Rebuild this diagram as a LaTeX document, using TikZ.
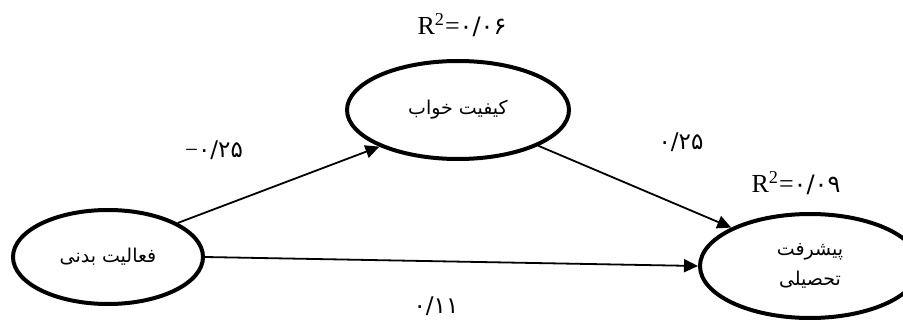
\documentclass[tikz,border=0pt]{standalone}
\usepackage{fontspec}
\setmainfont{Liberation Serif}
\newfontfamily\arabicfont[Script=Arabic]{DejaVu Sans}
\TeXXeTstate=1
\usetikzlibrary{arrows.meta, shapes.geometric}

\begin{document}
\begin{tikzpicture}[x=0.5pt, y=-0.5pt,
    latent/.style={ellipse, draw, line width=2pt, inner sep=0pt, align=center,
      font=\arabicfont\fontsize{9.5}{15}\selectfont},
    path/.style={-{Triangle[length=7pt, width=6.5pt]}, line width=0.9pt},
    coef/.style={font=\arabicfont\fontsize{11.5}{13}\selectfont, inner sep=1pt},
    rsq/.style={font=\fontsize{13}{15}\selectfont}]
    \clip (0,0) rectangle (903,320);
    % Latent variables
    \node[latent, minimum width=95pt, minimum height=47pt] (activity) at (108,257) {\beginR فعالیت بدنی\endR};
    \node[latent, minimum width=111pt, minimum height=49pt] (sleep) at (458,110) {\beginR کیفیت خواب\endR};
    \node[latent, minimum width=110pt, minimum height=52pt] (achieve) at (810,266)
      {\beginR پیشرفت\endR\\\beginR تحصیلی\endR};
    % Paths
    \draw[path] (activity.26) -- (sleep.205);
    \draw[path] (sleep.336) -- (achieve.154);
    \draw[path] (activity.east) -- (achieve.west);
    % Path coefficients
    \node[coef] (c1) at (214,150) {{\rmfamily −}۰/۲۵};
    \node[coef] (c2) at (681,142) {۰/۲۵};
    \node[coef, anchor=south] (c3) at (436,318) {۰/۱۱};
    % Explained variance
    \node[rsq] (r1) at (462,25) {R\textsuperscript{2}={\arabicfont\fontsize{12}{13}\selectfont ۰/۰۶}};
    \node[rsq] (r2) at (796,183) {R\textsuperscript{2}={\arabicfont\fontsize{12}{13}\selectfont ۰/۰۹}};
\end{tikzpicture}
\end{document}
